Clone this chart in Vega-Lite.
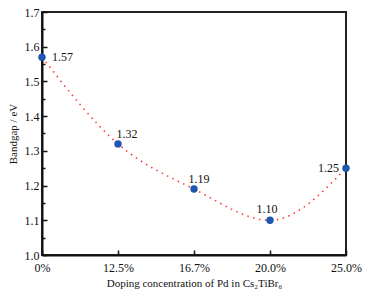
{
  "$schema": "https://vega.github.io/schema/vega-lite/v6.json",
  "autosize": {"type": "none"},
  "width": 304,
  "height": 243,
  "padding": {"left": 42, "top": 12, "right": 22, "bottom": 42},
  "config": {
    "font": "Liberation Serif",
    "view": {"stroke": "#222", "strokeWidth": 2},
    "axis": {"labelFont": "Liberation Serif", "titleFont": "Liberation Serif", "labelColor": "#111", "titleColor": "#111", "titleFontWeight": "normal", "domainColor": "#111", "domainWidth": 2, "tickColor": "#111", "tickWidth": 1.5, "grid": false}
  },
  "data": {"values": [
    {"c": "0%", "v": 1.57},
    {"c": "12.5%", "v": 1.32},
    {"c": "16.7%", "v": 1.19},
    {"c": "20.0%", "v": 1.10},
    {"c": "25.0%", "v": 1.25}
  ]},
  "encoding": {
    "x": {"field": "c", "type": "ordinal", "sort": null,
      "scale": {"type": "point", "padding": 0},
      "axis": {"title": "Doping concentration of Pd in Cs₂TiBr₆", "labelAngle": 0, "labelFontSize": 12, "titleFontSize": 11, "tickSize": -5, "labelPadding": 12, "titlePadding": 4}},
    "y": {"field": "v", "type": "quantitative",
      "scale": {"domain": [1.0, 1.7], "nice": false, "zero": false},
      "axis": {"title": "Bandgap / eV", "values": [1.0, 1.05, 1.1, 1.15, 1.2, 1.25, 1.3, 1.35, 1.4, 1.45, 1.5, 1.55, 1.6, 1.65, 1.7],
        "labelExpr": "abs(round(datum.value*100) % 10) < 1 ? format(datum.value, '.1f') : ''",
        "tickSize": {"condition": {"test": "abs(round(datum.value*100) % 10) < 1", "value": -5}, "value": -3},
        "labelFontSize": 12, "titleFontSize": 11, "labelPadding": 8, "titlePadding": 6}}
  },
  "layer": [
    {"mark": {"type": "line", "interpolate": "monotone", "color": "#ff3b3b", "strokeDash": [1.5, 4.5], "strokeWidth": 1.6}},
    {"mark": {"type": "circle", "color": "#1f56b0", "opacity": 1, "size": 55}},
    {"transform": [{"filter": "datum.c == '0%'"}],
     "mark": {"type": "text", "align": "left", "baseline": "middle", "dx": 10, "fontSize": 12, "color": "#111"},
     "encoding": {"text": {"field": "v", "type": "quantitative", "format": ".2f"}}},
    {"transform": [{"filter": "datum.c == '12.5%'"}],
     "mark": {"type": "text", "align": "center", "baseline": "middle", "dx": 9, "dy": -10, "fontSize": 12, "color": "#111"},
     "encoding": {"text": {"field": "v", "type": "quantitative", "format": ".2f"}}},
    {"transform": [{"filter": "datum.c == '16.7%'"}],
     "mark": {"type": "text", "align": "center", "baseline": "middle", "dx": 5, "dy": -10, "fontSize": 12, "color": "#111"},
     "encoding": {"text": {"field": "v", "type": "quantitative", "format": ".2f"}}},
    {"transform": [{"filter": "datum.c == '20.0%'"}],
     "mark": {"type": "text", "align": "center", "baseline": "middle", "dx": -3, "dy": -11, "fontSize": 12, "color": "#111"},
     "encoding": {"text": {"field": "v", "type": "quantitative", "format": ".2f"}}},
    {"transform": [{"filter": "datum.c == '25.0%'"}],
     "mark": {"type": "text", "align": "right", "baseline": "middle", "dx": -7, "fontSize": 12, "color": "#111"},
     "encoding": {"text": {"field": "v", "type": "quantitative", "format": ".2f"}}}
  ]
}
